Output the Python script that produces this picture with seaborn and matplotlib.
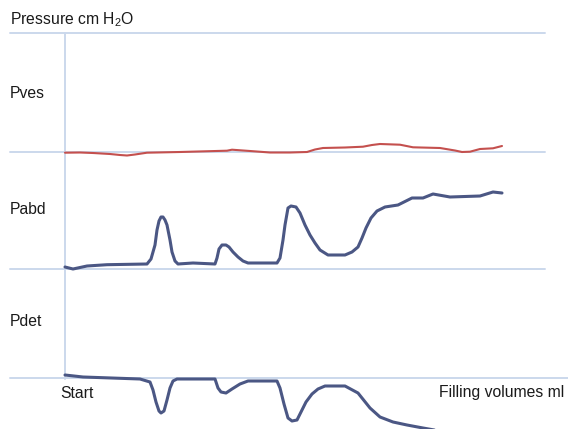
import numpy as np
import pandas as pd
import seaborn as sns
from matplotlib import pyplot as plt

# filling volume (x) and pressure deflection per channel
PVES_VOL = [65, 80, 93, 110, 120, 127, 135, 147, 180, 227, 232, 250, 270, 290,
            307, 315, 323, 345, 363, 372, 380, 400, 413, 440, 455, 462, 470,
            480, 493, 502]
PVES = [-0.7, -0.5, -1, -2, -3, -3.5, -2.5, -0.7, 0, 1.3, 2.3, 1, -0.5, -0.5,
        0, 2.5, 4, 4.5, 5.3, 7, 8, 7.3, 4.7, 4, 1.5, 0, 0.3, 3, 3.7, 6]

PABD_VOL = [65, 73, 87, 107, 147, 151, 155, 157, 159, 161, 163, 165, 167, 170,
            172, 175, 178, 193, 215, 217, 219, 222, 226, 229, 233, 238, 243,
            248, 277, 280, 283, 285, 288, 291, 296, 300, 305, 310, 315, 320,
            328, 345, 352, 358, 362, 366, 371, 377, 385, 398, 412, 423, 433,
            450, 480, 493, 502]
PABD = [2, 0, 3, 4.3, 5, 10, 24, 39, 48, 52, 52, 49, 44, 29,
        17, 8, 5, 6, 5, 11, 20, 24, 24, 22, 17, 12, 8,
        6, 6, 11, 29, 44, 61, 63, 62, 56, 44, 34, 26, 19,
        14, 14, 17, 22, 31, 41, 51, 58, 62, 64, 71, 71, 75,
        72, 73, 77, 76]

PDET_VOL = [65, 83, 140, 150, 153, 156, 159, 161, 164, 167, 170, 173, 177, 215,
            218, 221, 226, 232, 240, 248, 277, 280, 284, 288, 292, 297, 301,
            306, 312, 318, 325, 345, 358, 370, 380, 393, 407, 423, 440, 470,
            502]
PDET = [3, 1, -1, -4, -12, -24, -33, -35, -33, -22, -10, -3, -1, -1,
        -10, -14, -15, -11, -6, -3, -3, -10, -26, -40, -43, -42, -34,
        -24, -16, -11, -8, -8, -15, -30, -39, -44, -47, -50, -53, -54,
        -54]

CHANNELS = ["Pves", "Pabd", "Pdet"]

# layout (canvas units, y grows downward)
BASELINES = {"Pves": 152, "Pabd": 269, "Pdet": 378}
TOP_LINE = 33
AXIS_X = 65

GRID_COLOR = "#cbd8ec"
RED = "#c4504e"
BLUE = "#4b5784"

sns.set_theme(style="white")
plt.rcParams["font.family"] = ["Liberation Sans", "DejaVu Sans"]
plt.rcParams["mathtext.fontset"] = "custom"
plt.rcParams["mathtext.rm"] = "Liberation Sans"

fig = plt.figure(figsize=(5.68, 4.29), dpi=100)
ax = fig.add_axes([0, 0, 1, 1])
ax.set_xlim(0, 568)
ax.set_ylim(429, 0)
ax.axis("off")

# guide lines
ax.plot([10, 545], [TOP_LINE, TOP_LINE], color=GRID_COLOR, lw=1.4)
ax.plot([10, 545], [BASELINES["Pves"]] * 2, color=GRID_COLOR, lw=1.4)
ax.plot([10, 545], [BASELINES["Pabd"]] * 2, color=GRID_COLOR, lw=1.4)
ax.plot([10, 568], [BASELINES["Pdet"]] * 2, color=GRID_COLOR, lw=1.4)
ax.plot([AXIS_X, AXIS_X], [TOP_LINE, BASELINES["Pdet"] + 1], color=GRID_COLOR, lw=1.4)

traces = {
    "Pves": (PVES_VOL, PVES, RED, 1.5),
    "Pabd": (PABD_VOL, PABD, BLUE, 2.2),
    "Pdet": (PDET_VOL, PDET, BLUE, 2.2),
}
for name in CHANNELS:
    vol, val, color, lw = traces[name]
    df = pd.DataFrame({"volume": vol, "level": BASELINES[name] - np.array(val)})
    sns.lineplot(data=df, x="volume", y="level", ax=ax, color=color, lw=lw,
                 sort=False, estimator=None, clip_on=False,
                 solid_joinstyle="round", solid_capstyle="round")

fs = 11.3
ax.text(10, 20, "Pressure cm H$_2$O", fontsize=fs, va="center", ha="left", color="#1a1a1a")
ax.text(10, 93, "Pves", fontsize=fs, va="center", ha="left", color="#1a1a1a")
ax.text(10, 209, "Pabd", fontsize=fs, va="center", ha="left", color="#1a1a1a")
ax.text(10, 322, "Pdet", fontsize=fs, va="center", ha="left", color="#1a1a1a")
ax.text(60, 393, "Start", fontsize=fs, va="center", ha="left", color="#1a1a1a")
ax.text(564, 393, "Filling volumes ml", fontsize=fs, va="center", ha="right", color="#1a1a1a")

ax.set_xlabel("")
ax.set_ylabel("")
fig.savefig("out.png", dpi=100)
